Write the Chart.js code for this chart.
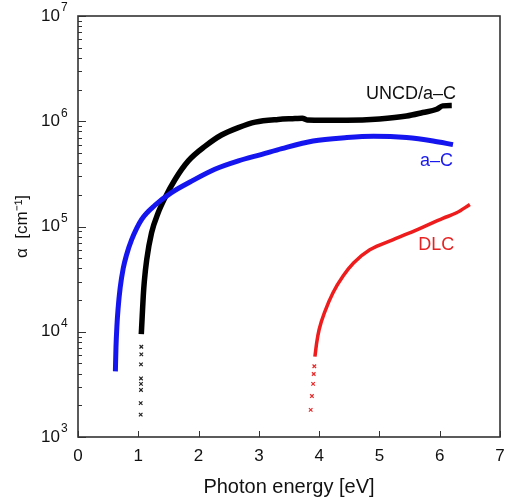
<!DOCTYPE html>
<html>
<head>
<meta charset="utf-8">
<script src="https://cdn.jsdelivr.net/npm/chart.js@4/dist/chart.umd.min.js"></script>
<style>
  html, body { margin: 0; background: #fff; }
  #wrap { width: 506px; height: 497px; }
</style>
</head>
<body>
<div id="wrap"><canvas id="spectra"></canvas></div>
<script>
// absorption coefficient (cm^-1) vs photon energy (eV)
const uncdEnergy = [1.05, 1.065, 1.083, 1.1, 1.14, 1.22, 1.33, 1.44, 1.61, 1.83, 2.11, 2.38, 2.66, 2.94, 3.32, 3.6, 3.72, 3.8, 4.46, 5.0, 5.45, 5.72, 5.95, 6.05, 6.2];
const uncdAlpha  = [9.5e3, 1.4e4, 2.2e4, 3.0e4, 4.85e4, 8.7e4, 1.35e5, 1.86e5, 2.8e5, 4.2e5, 5.8e5, 7.4e5, 8.7e5, 9.8e5, 1.04e6, 1.06e6, 1.07e6, 1.03e6, 1.02e6, 1.05e6, 1.12e6, 1.21e6, 1.3e6, 1.4e6, 1.41e6];
// sparse points below the onset
const uncdTailEnergy = [1.04, 1.04, 1.045, 1.045, 1.045, 1.045, 1.05, 1.05];
const uncdTailAlpha  = [1.63e3, 2.1e3, 2.8e3, 3.2e3, 3.6e3, 4.9e3, 6.1e3, 7.2e3];

const acEnergy = [0.62, 0.63, 0.645, 0.665, 0.7, 0.75, 0.8, 0.89, 1.056, 1.28, 1.55, 1.885, 2.27, 2.66, 3.05, 3.38, 3.9, 4.46, 4.9, 5.45, 5.89, 6.22];
const acAlpha  = [4.2e3, 7.1e3, 1.12e4, 1.66e4, 2.63e4, 4.0e4, 5.25e4, 7.5e4, 1.17e5, 1.6e5, 2.1e5, 2.7e5, 3.5e5, 4.2e5, 4.85e5, 5.5e5, 6.5e5, 7.0e5, 7.2e5, 7.0e5, 6.5e5, 6.0e5];

const dlcEnergy = [3.93, 3.96, 4.0, 4.1, 4.23, 4.4, 4.57, 4.84, 5.23, 5.62, 6.06, 6.28, 6.5];
const dlcAlpha  = [5.8e3, 7.9e3, 1.05e4, 1.58e4, 2.35e4, 3.4e4, 4.5e4, 6.0e4, 7.5e4, 9.3e4, 1.2e5, 1.35e5, 1.62e5];
const dlcTailEnergy = [3.86, 3.88, 3.9, 3.91, 3.92];
const dlcTailAlpha  = [1.81e3, 2.45e3, 3.2e3, 3.97e3, 4.7e3];

const xTickValues = [0, 1, 2, 3, 4, 5, 6, 7];
const yDecades = [1e3, 1e4, 1e5, 1e6, 1e7];

// curve names, anchored (right edge) in data coordinates
const curveNames = [
  { text: 'UNCD/a\u2013C', e: 6.27, a: 1.81e6, color: '#111' },
  { text: 'a\u2013C', e: 6.22, a: 4.2e5, color: '#1a1aee' },
  { text: 'DLC', e: 6.24, a: 6.6e4, color: '#e82222' }
];

const FONT = '"Liberation Sans", Arial, sans-serif';
const pts = (xs, ys) => xs.map((x, i) => ({ x, y: ys[i] }));
const isDecade = v => Math.abs(Math.log10(v) - Math.round(Math.log10(v))) < 1e-9;

const lineSet = (data, color, width) => ({
  data, borderColor: color, backgroundColor: color, borderWidth: width,
  showLine: true, pointRadius: 0, cubicInterpolationMode: 'monotone'
});
const tailSet = (data, color) => ({
  data, borderColor: color, backgroundColor: color, showLine: false,
  pointStyle: 'crossRot', pointRadius: 2.5, pointBorderWidth: 1.2
});

const noPad = s => { s.paddingLeft = 0; s.paddingRight = 0; s.paddingTop = 0; s.paddingBottom = 0; };

// box, inward ticks, decade exponents and curve names
const frame = {
  id: 'frame',
  afterDraw(chart) {
    const { ctx, chartArea: a, scales: { x, y } } = chart;
    ctx.save();
    ctx.strokeStyle = '#333';
    ctx.lineWidth = 1;
    ctx.beginPath();
    x.ticks.forEach(t => {
      const px = Math.round(x.getPixelForValue(t.value)) + 0.5;
      ctx.moveTo(px, a.bottom); ctx.lineTo(px, a.bottom - 6);
    });
    y.ticks.forEach(t => {
      const py = Math.round(y.getPixelForValue(t.value)) + 0.5;
      ctx.moveTo(a.left, py); ctx.lineTo(a.left + (t.major ? 8 : 4), py);
    });
    ctx.stroke();
    ctx.lineWidth = 1.6;
    ctx.strokeRect(a.left, a.top, a.right - a.left, a.bottom - a.top);

    // exponent next to each "10"
    ctx.fillStyle = '#111';
    ctx.font = '12px ' + FONT;
    ctx.textAlign = 'left';
    ctx.textBaseline = 'middle';
    y.ticks.filter(t => t.major).forEach(t => {
      ctx.fillText(String(Math.round(Math.log10(t.value))), a.left - 17, y.getPixelForValue(t.value) - 8);
    });

    ctx.font = '18px ' + FONT;
    ctx.textAlign = 'right';
    curveNames.forEach(n => {
      ctx.fillStyle = n.color;
      ctx.fillText(n.text, x.getPixelForValue(n.e), y.getPixelForValue(n.a));
    });
    ctx.restore();
  }
};

new Chart(document.getElementById('spectra'), {
  type: 'scatter',
  data: {
    datasets: [
      lineSet(pts(acEnergy, acAlpha), '#1515f0', 5),
      lineSet(pts(uncdEnergy, uncdAlpha), '#000', 5.5),
      tailSet(pts(uncdTailEnergy, uncdTailAlpha), '#222'),
      lineSet(pts(dlcEnergy, dlcAlpha), '#ee1c1c', 3.5),
      tailSet(pts(dlcTailEnergy, dlcTailAlpha), '#e82a2a')
    ]
  },
  options: {
    responsive: true,
    maintainAspectRatio: false,
    animation: false,
    layout: { padding: { top: 16, right: 6, left: 0, bottom: 0 } },
    plugins: { legend: { display: false }, tooltip: { enabled: false } },
    scales: {
      x: {
        type: 'linear', min: 0, max: 7,
        afterFit: s => { s.height = 60; noPad(s); },
        afterBuildTicks: s => { s.ticks = xTickValues.map(v => ({ value: v })); },
        grid: { display: false, drawTicks: false },
        border: { display: false },
        ticks: { padding: 9, color: '#111', font: { family: FONT, size: 17 } },
        title: {
          display: true, text: 'Photon energy [eV]', color: '#111',
          font: { family: FONT, size: 20, lineHeight: 1 }, padding: 0
        }
      },
      y: {
        type: 'logarithmic', min: 1e3, max: 1e7,
        afterFit: s => { s.width = 78; noPad(s); },
        afterBuildTicks: s => {
          const list = [];
          yDecades.forEach((d, i) => {
            list.push({ value: d, major: true });
            if (i < yDecades.length - 1) {
              [2, 3, 4, 5, 6, 7, 8, 9].forEach(m => list.push({ value: d * m, major: false }));
            }
          });
          s.ticks = list;
        },
        grid: { display: false, drawTicks: false },
        border: { display: false },
        ticks: {
          autoSkip: false, padding: 18, color: '#111', font: { family: FONT, size: 17 },
          callback: v => (isDecade(v) ? '10' : '')
        },
        title: {
          display: true, text: '\u03b1  [cm\u207b\u00b9]', color: '#111',
          font: { family: FONT, size: 17 }, padding: { top: 12, bottom: 0 }
        }
      }
    }
  },
  plugins: [frame]
});
</script>
</body>
</html>
